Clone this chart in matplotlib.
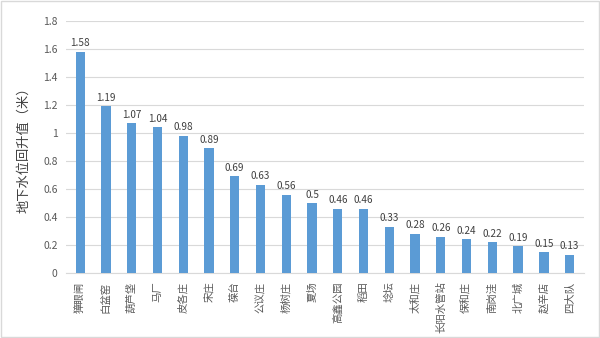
import matplotlib
matplotlib.use("Agg")
import matplotlib.pyplot as plt
from matplotlib.patches import Rectangle

plt.rcParams['font.family'] = ['Noto Sans CJK SC', 'DejaVu Sans']

stations = ["獐眼闸", "白盆窑", "葫芦垡", "马厂", "皮各庄", "宋庄", "葆台", "公议庄", "杨树庄", "夏场",
            "高鑫公园", "稻田", "埝坛", "太和庄", "长阳水管站", "保和庄", "南岗洼", "北广城", "赵辛店", "四大队"]
values = [1.58, 1.19, 1.07, 1.04, 0.98, 0.89, 0.69, 0.63, 0.56, 0.5,
          0.46, 0.46, 0.33, 0.28, 0.26, 0.24, 0.22, 0.19, 0.15, 0.13]
yticks = [0, 0.2, 0.4, 0.6, 0.8, 1, 1.2, 1.4, 1.6, 1.8]
ytick_labels = ["0", "0.2", "0.4", "0.6", "0.8", "1", "1.2", "1.4", "1.6", "1.8"]
ylabel = "地下水位回升值（米）"

fig = plt.figure(figsize=(6, 3.38), dpi=100)
ax = fig.add_axes([0.11, 0.192, 0.863, 0.746])
x = range(len(stations))
bars = ax.bar(x, values, width=0.36, color="#5B9BD5", zorder=3)
for xi, v in zip(x, values):
    ax.text(xi, v + 0.025, f"{v:g}", ha="center", va="bottom", fontsize=7.2, color="#404040")

ax.set_xlim(-0.55, len(stations) - 0.45)
ax.set_ylim(0, 1.8)
ax.set_yticks(yticks)
ax.set_yticklabels(ytick_labels, fontsize=7.5, color="#595959")
ax.set_xticks(list(x))
ax.set_xticklabels(stations, rotation=90, fontsize=7.5, color="#595959")
ax.tick_params(length=0, pad=6)
ax.grid(axis="y", color="#D9D9D9", linewidth=0.8, zorder=0)
for s in ["top", "right", "left"]:
    ax.spines[s].set_visible(False)
ax.spines["bottom"].set_color("#D9D9D9")
ax.set_ylabel(ylabel, fontsize=9.5, color="#404040", labelpad=9)

fig.patches.append(Rectangle((0.002, 0.003), 0.996, 0.994, transform=fig.transFigure,
                             fill=False, edgecolor="#D9D9D9", linewidth=1))
fig.savefig("out.png", dpi=100)
